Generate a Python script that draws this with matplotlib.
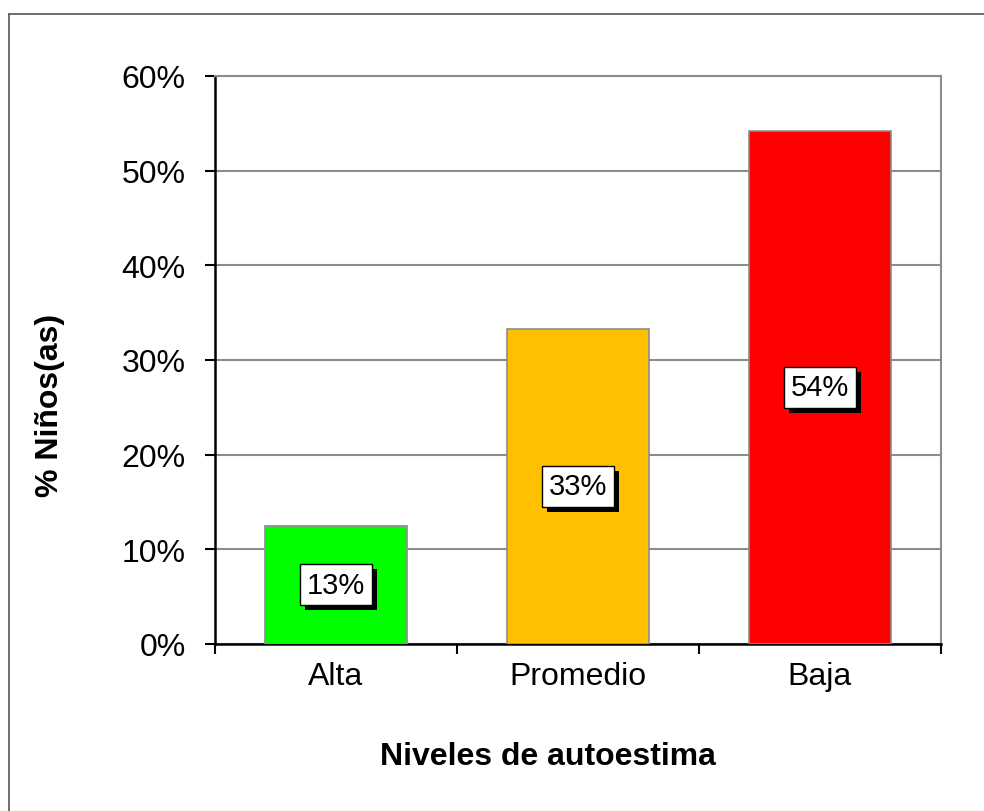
import matplotlib
matplotlib.use('Agg')
import matplotlib.pyplot as plt
import matplotlib.patheffects as pe
from matplotlib.lines import Line2D
from matplotlib.ticker import FuncFormatter

plt.rcParams['font.family'] = ['Liberation Sans', 'DejaVu Sans']

# data
categories = ['Alta', 'Promedio', 'Baja']
values = [12.5, 33.3, 54.2]          # % of children per level
colors = ['#00FF00', '#FFC000', '#FF0000']
y_ticks = [0, 10, 20, 30, 40, 50, 60]


def main():
	W, H = 984, 812
	fig = plt.figure(figsize=(W / 100, H / 100), dpi=100)
	ax = fig.add_axes([215 / W, (H - 645) / H, (941 - 215) / W, (645 - 77) / H])

	x = list(range(len(categories)))
	ax.bar(x, values, width=0.59, color=colors, edgecolor='#8c8c8c', linewidth=1.2, zorder=3)

	# value boxes with a drop shadow, centred in each bar
	for xi, v in zip(x, values):
		lab = '%d%%' % int(v + 0.5)
		t = ax.text(xi, v / 2, lab, ha='center', va='center', fontsize=21, color='black',
					bbox=dict(boxstyle='square,pad=0.22', fc='white', ec='black', lw=1), zorder=5)
		t.get_bbox_patch().set_path_effects([
			pe.SimplePatchShadow(offset=(3.6, -3.6), shadow_rgbFace='black', alpha=1.0),
			pe.Normal()])

	ax.set_xlim(-0.5, len(categories) - 0.5)
	ax.set_ylim(0, 60)
	ax.set_yticks(y_ticks)
	ax.yaxis.set_major_formatter(FuncFormatter(lambda v, p: '%d%%' % v))
	ax.grid(axis='y', color='#8c8c8c', linewidth=1.5, zorder=0)

	# ticks at category boundaries, labels in the middle
	ax.set_xticks([i - 0.5 for i in range(len(categories) + 1)])
	ax.set_xticklabels([])
	ax.set_xticks(x, minor=True)
	ax.set_xticklabels(categories, minor=True)
	ax.tick_params(axis='x', which='major', direction='out', length=7, width=1.5)
	ax.tick_params(axis='x', which='minor', length=0, pad=12, labelsize=23)
	ax.tick_params(axis='y', direction='out', length=7, width=1.5, pad=14, labelsize=23)

	for s in ['top', 'right']:
		ax.spines[s].set_color('#8c8c8c')
		ax.spines[s].set_linewidth(1.5)
	for s in ['left', 'bottom']:
		ax.spines[s].set_color('black')
		ax.spines[s].set_linewidth(1.8)

	fig.text(50 / W, 1 - 405 / H, '% Niños(as)', rotation=90, ha='center', va='center',
			 fontsize=23, fontweight='bold')
	fig.text(548 / W, 1 - 757 / H, 'Niveles de autoestima', ha='center', va='center',
			 fontsize=23, fontweight='bold')

	# outer chart border (only left and top fall inside the picture)
	fig.add_artist(Line2D([9 / W, 9 / W], [0, 1 - 15 / H], color='#555555', lw=1.2))
	fig.add_artist(Line2D([9 / W, 1], [1 - 15 / H, 1 - 15 / H], color='#555555', lw=1.2))

	fig.savefig('out.png', dpi=100)


if __name__ == '__main__':
	main()
